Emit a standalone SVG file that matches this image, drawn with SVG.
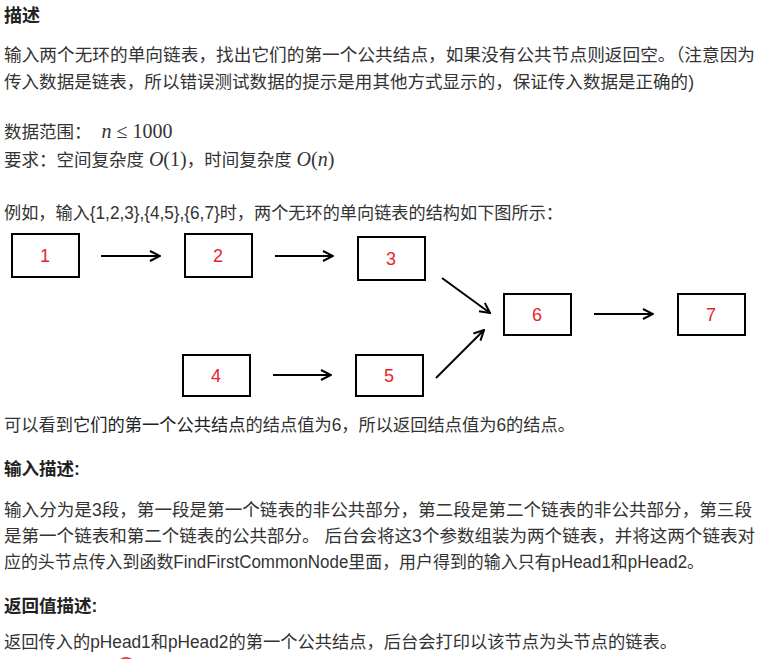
<svg xmlns="http://www.w3.org/2000/svg" width="758" height="659" viewBox="0 0 758 659">
<style>
text{font-family:"Liberation Sans","Noto Sans CJK SC",sans-serif;font-size:17.5px;fill:#333}
.b{font-weight:bold;fill:#222}
.m{font-family:"Liberation Serif",serif;font-size:20px}
.mi{font-family:"Liberation Serif",serif;font-size:20px;font-style:italic}
rect{fill:#fff;stroke:#000;stroke-width:2}
.n{fill:#e8232a;font-size:18px;text-anchor:middle}
line{stroke:#000;stroke-width:2}
</style>
<defs><marker id="a" viewBox="0 0 12 12" refX="11" refY="6" markerWidth="12" markerHeight="12" markerUnits="userSpaceOnUse" orient="auto"><path d="M1,1 L11,6 L1,11" fill="none" stroke="#000" stroke-width="2"/></marker></defs>
<rect width="758" height="659" style="fill:#fff;stroke:none"/>
<text x="4" y="22" class="b" style="font-size:18px">描述</text>
<text x="4" y="61" textLength="751" lengthAdjust="spacingAndGlyphs">输入两个无环的单向链表，找出它们的第一个公共结点，如果没有公共节点则返回空。（注意因为</text>
<text x="4" y="88" textLength="690" lengthAdjust="spacingAndGlyphs">传入数据是链表，所以错误测试数据的提示是用其他方式显示的，保证传入数据是正确的)</text>
<text x="4" y="138">数据范围：<tspan class="mi" dx="10">n</tspan><tspan class="m"> ≤ 1000</tspan></text>
<text x="4" y="166">要求：空间复杂度 <tspan class="mi">O</tspan><tspan class="m">(1)</tspan>，时间复杂度 <tspan class="mi">O</tspan><tspan class="m">(</tspan><tspan class="mi">n</tspan><tspan class="m">)</tspan></text>
<text x="4" y="219" textLength="559" lengthAdjust="spacingAndGlyphs">例如，输入{1,2,3},{4,5},{6,7}时，两个无环的单向链表的结构如下图所示：</text>
<g id="n1"><rect x="12" y="234" width="67" height="43"/><text x="45" y="262" class="n">1</text></g>
<g id="n2"><rect x="185" y="234" width="67" height="43"/><text x="218" y="262" class="n">2</text></g>
<g id="n3"><rect x="358" y="237" width="67" height="43"/><text x="391" y="265" class="n">3</text></g>
<g id="n4"><rect x="183" y="355" width="67" height="41"/><text x="216" y="382" class="n">4</text></g>
<g id="n5"><rect x="356" y="355" width="67" height="41"/><text x="389" y="382" class="n">5</text></g>
<g id="n6"><rect x="504" y="294" width="67" height="41"/><text x="537" y="321" class="n">6</text></g>
<g id="n7"><rect x="678" y="294" width="67" height="41"/><text x="711" y="321" class="n">7</text></g>
<g id="edges">
<line x1="101" y1="256" x2="160" y2="256" marker-end="url(#a)"/>
<line x1="275" y1="256" x2="333" y2="256" marker-end="url(#a)"/>
<line x1="442" y1="278" x2="490" y2="313" marker-end="url(#a)"/>
<line x1="436" y1="378" x2="484" y2="330" marker-end="url(#a)"/>
<line x1="273" y1="375" x2="331" y2="375" marker-end="url(#a)"/>
<line x1="594" y1="314" x2="653" y2="314" marker-end="url(#a)"/>
</g>
<text x="4" y="431" textLength="571" lengthAdjust="spacingAndGlyphs">可以看到<tspan fill="#222">它们的第一个公共结点</tspan>的结点值为6，所以返回结点值为6的结点。</text>
<text x="4" y="475" class="b">输入描述:</text>
<text x="4" y="516" textLength="748" lengthAdjust="spacingAndGlyphs">输入分为是3段，第一段是第一个链表的非公共部分，第二段是第二个链表的非公共部分，第三段</text>
<text x="4" y="542" textLength="751" lengthAdjust="spacingAndGlyphs">是第一个链表和第二个链表的公共部分。 后台会将这3个参数组装为两个链表，并将这两个链表对</text>
<text x="4" y="568" textLength="700" lengthAdjust="spacingAndGlyphs">应的头节点传入到函数FindFirstCommonNode里面，用户得到的输入只有pHead1和pHead2。</text>
<text x="4" y="612" class="b">返回值描述:</text>
<text x="4" y="648" textLength="673" lengthAdjust="spacingAndGlyphs">返回传入的pHead1和pHead2的第一个公共结点，后台会打印以该节点为头节点的链表。</text>
<circle cx="126" cy="667" r="10" fill="#f03c3c"/>
</svg>
